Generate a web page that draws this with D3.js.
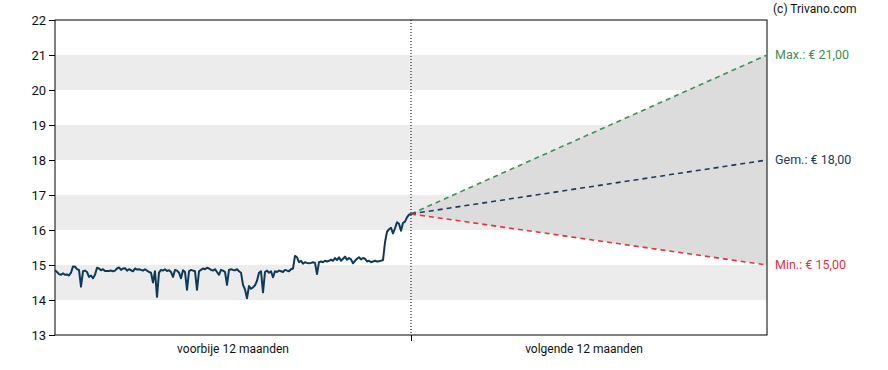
<!DOCTYPE html>
<html><head><meta charset="utf-8">
<script src="https://cdn.jsdelivr.net/npm/d3@7"></script>
<style>
body{margin:0;background:#fff;}
text{font-family:Roboto,"Noto Sans",sans-serif;}
</style></head>
<body><svg id="c" width="888" height="370"></svg>
<script>
const yTicks = [13,14,15,16,17,18,19,20,21,22];
const bands = [[14,15],[16,17],[18,19],[20,21]];
const periodLabels = ["voorbije 12 maanden","volgende 12 maanden"];
const prices = [14.85,14.80,14.74,14.72,14.76,14.72,14.73,14.70,14.78,14.96,14.95,14.88,14.86,14.38,14.82,14.84,14.80,14.66,14.70,14.62,
14.72,14.92,14.90,14.85,14.88,14.83,14.83,14.83,14.84,14.82,14.84,14.90,14.93,14.86,14.90,14.91,14.84,14.88,14.85,14.82,
14.90,14.87,14.88,14.86,14.84,14.88,14.84,14.80,14.78,14.50,14.82,14.09,14.78,14.86,14.84,14.88,14.83,14.85,14.80,14.66,
14.86,14.84,14.78,14.62,14.85,14.80,14.29,14.82,14.86,14.84,14.82,14.29,14.82,14.86,14.90,14.88,14.92,14.90,14.86,14.84,
14.88,14.80,14.72,14.86,14.84,14.80,14.43,14.86,14.88,14.86,14.85,14.88,14.82,14.78,14.43,14.30,14.05,14.40,14.32,14.36,
14.42,14.55,14.78,14.82,14.22,14.80,14.84,14.78,14.82,14.65,14.82,14.80,14.84,14.82,14.80,14.86,14.84,14.82,14.88,14.90,
15.26,15.22,15.08,15.12,15.04,15.08,15.06,15.05,15.06,15.08,15.06,14.74,15.08,15.10,15.08,15.12,15.10,15.12,15.15,15.12,
15.20,15.14,15.22,15.12,15.18,15.24,15.15,15.20,15.16,15.05,15.12,15.18,15.22,15.16,15.20,15.18,15.10,15.12,15.08,15.10,
15.12,15.10,15.11,15.12,15.14,15.65,15.95,16.02,16.06,15.90,16.05,16.22,16.18,15.98,16.20,16.24,16.36,16.44,16.46];
const targetNames = ["Max.","Gem.","Min."];
const targetValues = [21,18,15];
const targetColors = ["#3d8f55","#1b3a5c","#e8313c"];

const svg = d3.select("#c");
const L=55, R=767, T=20, B=335;
const y = d3.scaleLinear().domain([13,22]).range([B,T]);
const x = d3.scaleLinear().domain([0,24]).range([L,R]);
const n = prices.length;
const xi = i => x(12*i/(n-1));

svg.append("g").selectAll("rect").data(bands).join("rect")
  .attr("x",L).attr("width",R-L).attr("y",d=>y(d[1])).attr("height",d=>y(d[0])-y(d[1]))
  .attr("fill","#ececec");

const last = prices[n-1];
const fmt = v => "€ " + d3.format(".2f")(v).replace(".",",");
const maxV = d3.max(targetValues), minV = d3.min(targetValues);
svg.append("path")
  .attr("d", d3.line()([[x(12),y(last)],[x(24),y(maxV)],[x(24),y(minV)]])+"Z")
  .attr("fill","#dcdcdc");

const yAxis = svg.append("g").attr("transform",`translate(${L},0)`)
  .call(d3.axisLeft(y).tickValues(yTicks).tickFormat(d3.format("d")).tickSize(6).tickPadding(3));
yAxis.select(".domain").remove();
yAxis.selectAll("line").attr("stroke","#000");
yAxis.selectAll("text").attr("font-size","13px").attr("fill","#111").attr("font-family","Roboto,sans-serif");

svg.append("rect").attr("x",L).attr("y",T).attr("width",R-L).attr("height",B-T)
  .attr("fill","none").attr("stroke","#000").attr("stroke-width",1);

const xAxis = svg.append("g").attr("transform",`translate(0,${B})`)
  .call(d3.axisBottom(x).tickValues([12]).tickFormat("").tickSize(6));
xAxis.select(".domain").remove();
xAxis.selectAll("line").attr("stroke","#000");

svg.append("line").attr("x1",x(12)).attr("x2",x(12)).attr("y1",T).attr("y2",B)
  .attr("stroke","#000").attr("stroke-dasharray","1,2");

svg.selectAll(".pl").data(periodLabels).join("text").attr("class","pl")
  .attr("x",(d,i)=>x(6+12*i) - 5*i).attr("y",353).attr("text-anchor","middle")
  .attr("font-size","12px").attr("fill","#111").text(d=>d);

targetValues.forEach((v,i)=>{
  svg.append("line").attr("x1",x(12)).attr("y1",y(last)).attr("x2",x(24)).attr("y2",y(v))
    .attr("stroke",targetColors[i]).attr("stroke-width",1.6).attr("stroke-dasharray","5,4");
  svg.append("text").attr("x",R+8).attr("y",y(v)).attr("dy","0.35em")
    .attr("font-size","12.5px").attr("fill",targetColors[i]).text(targetNames[i]+": "+fmt(v));
});

svg.append("path").datum(prices)
  .attr("d", d3.line().x((d,i)=>xi(i)).y(d=>y(d)))
  .attr("fill","none").attr("stroke","#0e3a5a").attr("stroke-width",2).attr("stroke-linejoin","round");

svg.append("text").attr("x",773).attr("y",13).attr("font-size","12px").attr("fill","#111").text("(c) Trivano.com");
</script></body></html>
